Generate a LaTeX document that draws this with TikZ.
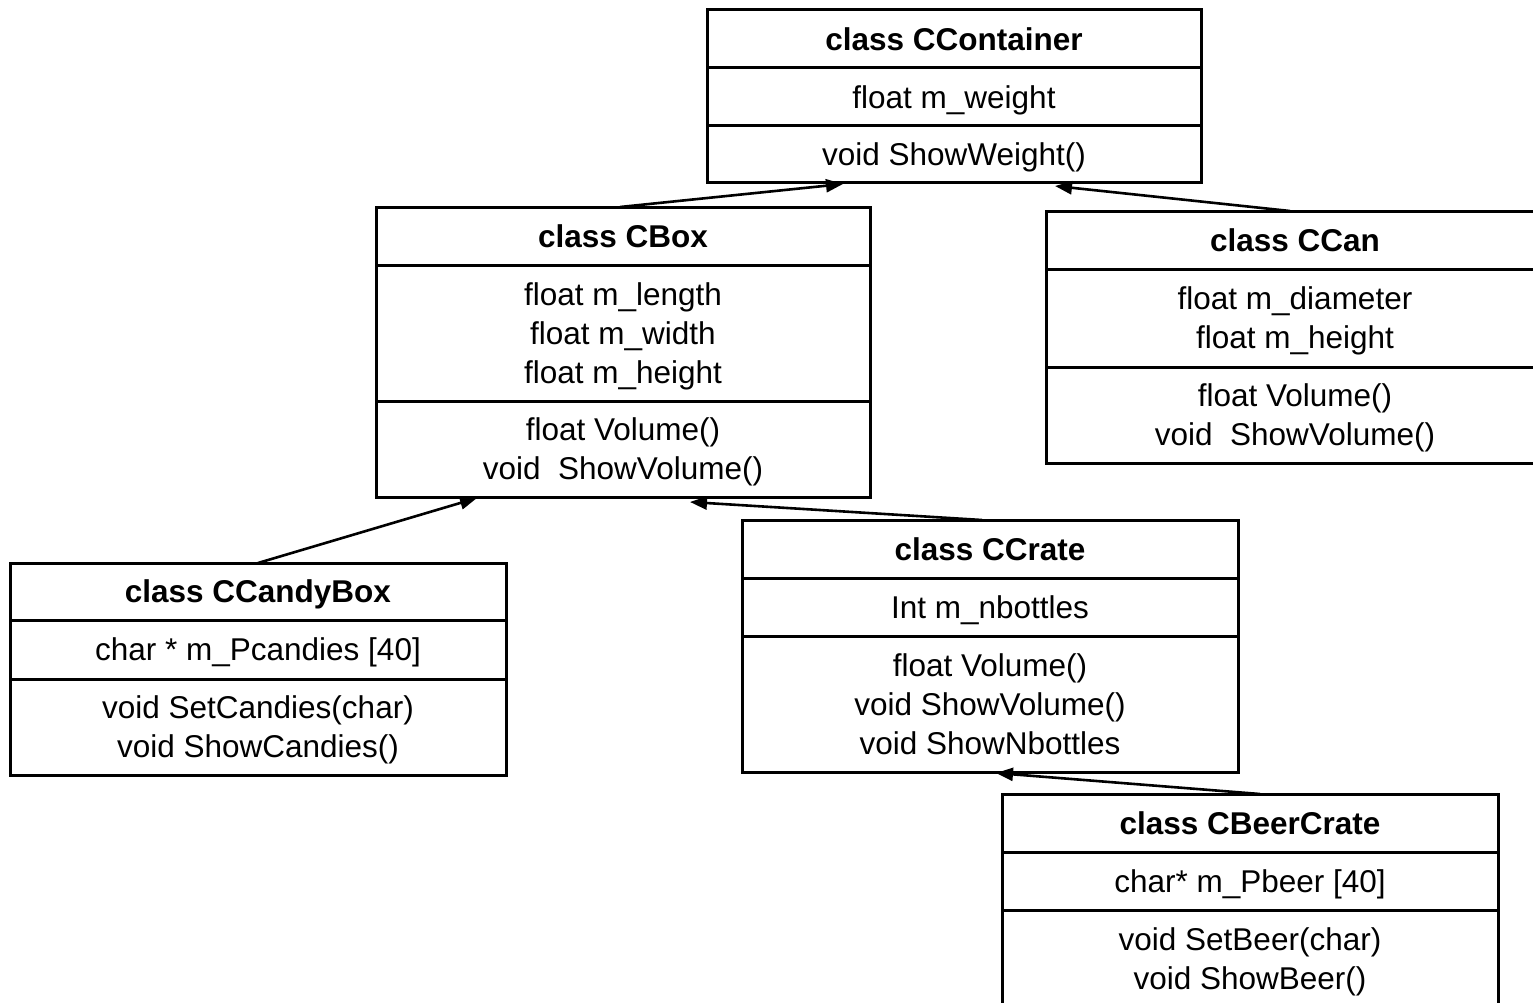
\documentclass[tikz,border=0pt]{standalone}
\usepackage{fontspec}
\setmainfont{Liberation Sans}
\usetikzlibrary{arrows.meta}
% invisible strut that centres a line's capitals in its compartment
\newcommand\cstrut{\rule[-7.4pt]{0pt}{37.4pt}}
\begin{document}
\begin{tikzpicture}[x=1pt,y=-1pt,
  comp/.style={draw, line width=3pt, inner sep=0pt, outer sep=0pt,
    anchor=north west, align=center,
    font=\fontsize{31.5}{39}\selectfont},
  inh/.style={line width=2.6pt, -{Triangle[length=17pt,width=13pt]}},
]
\clip (0,0) rectangle (1533,1003);
\useasboundingbox (0,0) rectangle (1533,1003);

% class CContainer
\node[comp, minimum width=494, minimum height=58] (cc-t) at (707,10) {\cstrut\textbf{class CContainer}};
\node[comp, minimum width=494, minimum height=58] (cc-a) at (707,68) {\cstrut float m\_weight};
\node[comp, minimum width=494, minimum height=57] (cc-m) at (707,126) {\cstrut void ShowWeight()};

% class CBox
\node[comp, minimum width=494, minimum height=58] (bx-t) at (376,207) {\cstrut\textbf{class CBox}};
\node[comp, minimum width=494, minimum height=136] (bx-a) at (376,265) {\cstrut float m\_length\\\cstrut float m\_width\\\cstrut float m\_height};
\node[comp, minimum width=494, minimum height=96] (bx-m) at (376,401) {\cstrut float Volume()\\\cstrut void\ \ ShowVolume()};

% class CCan
\node[comp, minimum width=498, minimum height=58] (cn-t) at (1046,211) {\cstrut\textbf{class CCan}};
\node[comp, minimum width=498, minimum height=98] (cn-a) at (1046,269) {\cstrut float m\_diameter\\\cstrut float m\_height};
\node[comp, minimum width=498, minimum height=96] (cn-m) at (1046,367) {\cstrut float Volume()\\\cstrut void\ \ ShowVolume()};

% class CCandyBox
\node[comp, minimum width=496, minimum height=57] (cb-t) at (10,563) {\cstrut\textbf{class CCandyBox}};
\node[comp, minimum width=496, minimum height=59] (cb-a) at (10,620) {\cstrut char * m\_Pcandies [40]};
\node[comp, minimum width=496, minimum height=96] (cb-m) at (10,679) {\cstrut void SetCandies(char)\\\cstrut void ShowCandies()};

% class CCrate
\node[comp, minimum width=496, minimum height=58] (cr-t) at (742,520) {\cstrut\textbf{class CCrate}};
\node[comp, minimum width=496, minimum height=58] (cr-a) at (742,578) {\cstrut Int m\_nbottles};
\node[comp, minimum width=496, minimum height=136] (cr-m) at (742,636) {\cstrut float Volume()\\\cstrut void ShowVolume()\\\cstrut void ShowNbottles};

% class CBeerCrate
\node[comp, minimum width=496, minimum height=58] (bc-t) at (1002,794) {\cstrut\textbf{class CBeerCrate}};
\node[comp, minimum width=496, minimum height=58] (bc-a) at (1002,852) {\cstrut char* m\_Pbeer [40]};
\node[comp, minimum width=496, minimum height=97] (bc-m) at (1002,910) {\cstrut void SetBeer(char)\\\cstrut void ShowBeer()};

% inheritance connectors
\draw[inh] ([xshift=244pt]bx-t.north west) -- ([xshift=136pt,yshift=-1pt]cc-m.south west);
\draw[inh] ([xshift=244pt]cn-t.north west) -- ([xshift=348pt,yshift=-3pt]cc-m.south west);
\draw[inh] ([xshift=248pt]cb-t.north west) -- ([xshift=101pt,yshift=-1pt]bx-m.south west);
\draw[inh] ([xshift=240pt]cr-t.north west) -- ([xshift=314pt,yshift=-5pt]bx-m.south west);
\draw[inh] ([xshift=258pt]bc-t.north west) -- ([xshift=254pt,yshift=-1pt]cr-m.south west);
\end{tikzpicture}
\end{document}
